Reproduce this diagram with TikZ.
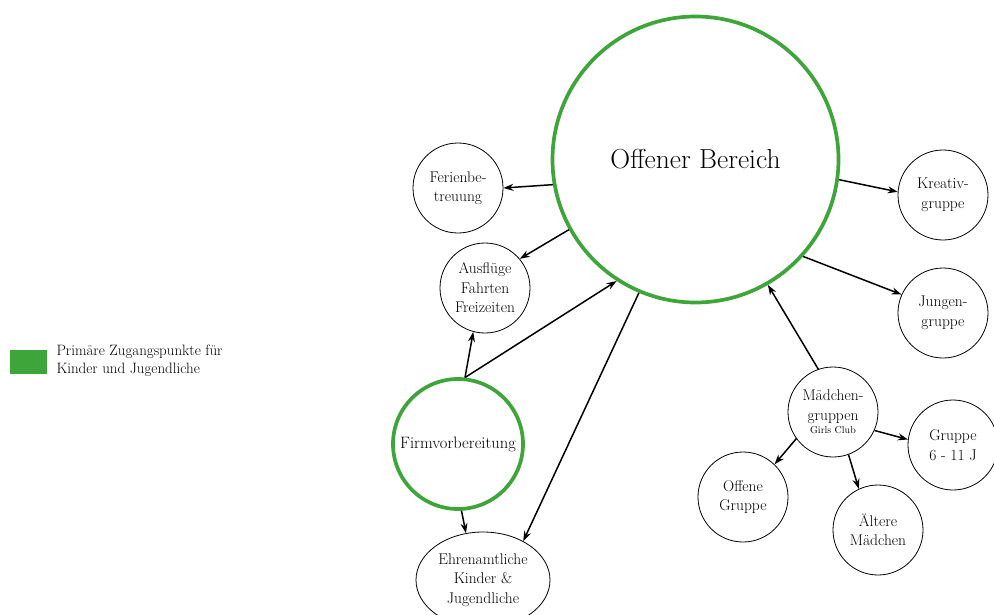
\documentclass[tikz,border=0pt]{standalone}
\usepackage{fontspec}
\usetikzlibrary{shapes.geometric,arrows.meta}

\begin{document}
\begin{tikzpicture}[x=1pt,y=-1pt]
  \definecolor{mygreen}{HTML}{3DA53A}
  \tikzstyle{every node}=[font=\fontsize{15.5}{19.5}\selectfont, align=center]
  \tikzstyle{access}=[circle, draw=mygreen, line width=3.7pt, inner sep=0pt]
  \tikzstyle{group}=[circle, draw, line width=0.8pt, minimum size=90pt, inner sep=0pt]
  \tikzstyle{link}=[-{Stealth[length=10pt,width=7pt]}, line width=1.5pt]

  \path[use as bounding box, clip] (0,0) rectangle (994,614);

  \node[fill=mygreen, minimum width=37pt, minimum height=24pt, inner sep=0pt] (key) at (28.5,362) {};
  \node[anchor=west, align=left, font=\fontsize{15}{18}\selectfont] (keytext) at (53,361) {Primäre Zugangspunkte für\\Kinder und Jugendliche};

  \node[access, minimum size=286pt, font=\fontsize{27.5}{30}\selectfont] (off) at (695.5,159.5) {Offener Bereich};
  \node[group] (fer) at (458,188) {Ferienbe-\\treuung};
  \node[group] (ausf) at (485,288) {Ausflüge\\Fahrten\\Freizeiten};
  \node[access, minimum size=130pt, font=\fontsize{16.5}{19.5}\selectfont] (firm) at (458,444) {Firmvorbereitung};
  \node[group, ellipse, minimum width=134pt, minimum height=96pt] (ehr) at (483,580) {Ehrenamtliche\\Kinder \&\\Jugendliche};
  \node[group] (krea) at (943,195) {Kreativ-\\gruppe};
  \node[group] (jung) at (943,313) {Jungen-\\gruppe};
  \node[group] (maed) at (833,412) {Mädchen-\\gruppen\\[-6pt]{\fontsize{10}{10}\selectfont Girls Club}};
  \node[group] (grp) at (953,445) {Gruppe\\6 - 11 J};
  \node[group] (offg) at (743,497) {Offene\\Gruppe};
  \node[group] (alt) at (878,530) {Ältere\\Mädchen};

  \draw[link] (off.190) -- (fer.east);
  \draw[link] (off.209) -- (ausf.40);
  \draw[link] (off.-8) -- (krea.176);
  \draw[link] (off.-42) -- (jung.156);
  \draw[link] (maed.109) -- (off.-60);
  \draw[link] (firm.84) -- (ausf.255);
  \draw[link] (firm.84) -- (off.237);
  \draw[link] (off.247) -- (ehr.44);
  \draw[link] (firm.-87) -- (ehr.110);
  \draw[link] (maed.-24) -- (grp.173);
  \draw[link] (maed.216) -- (offg.46);
  \draw[link] (maed.-70) -- (alt.115);
\end{tikzpicture}
\end{document}
